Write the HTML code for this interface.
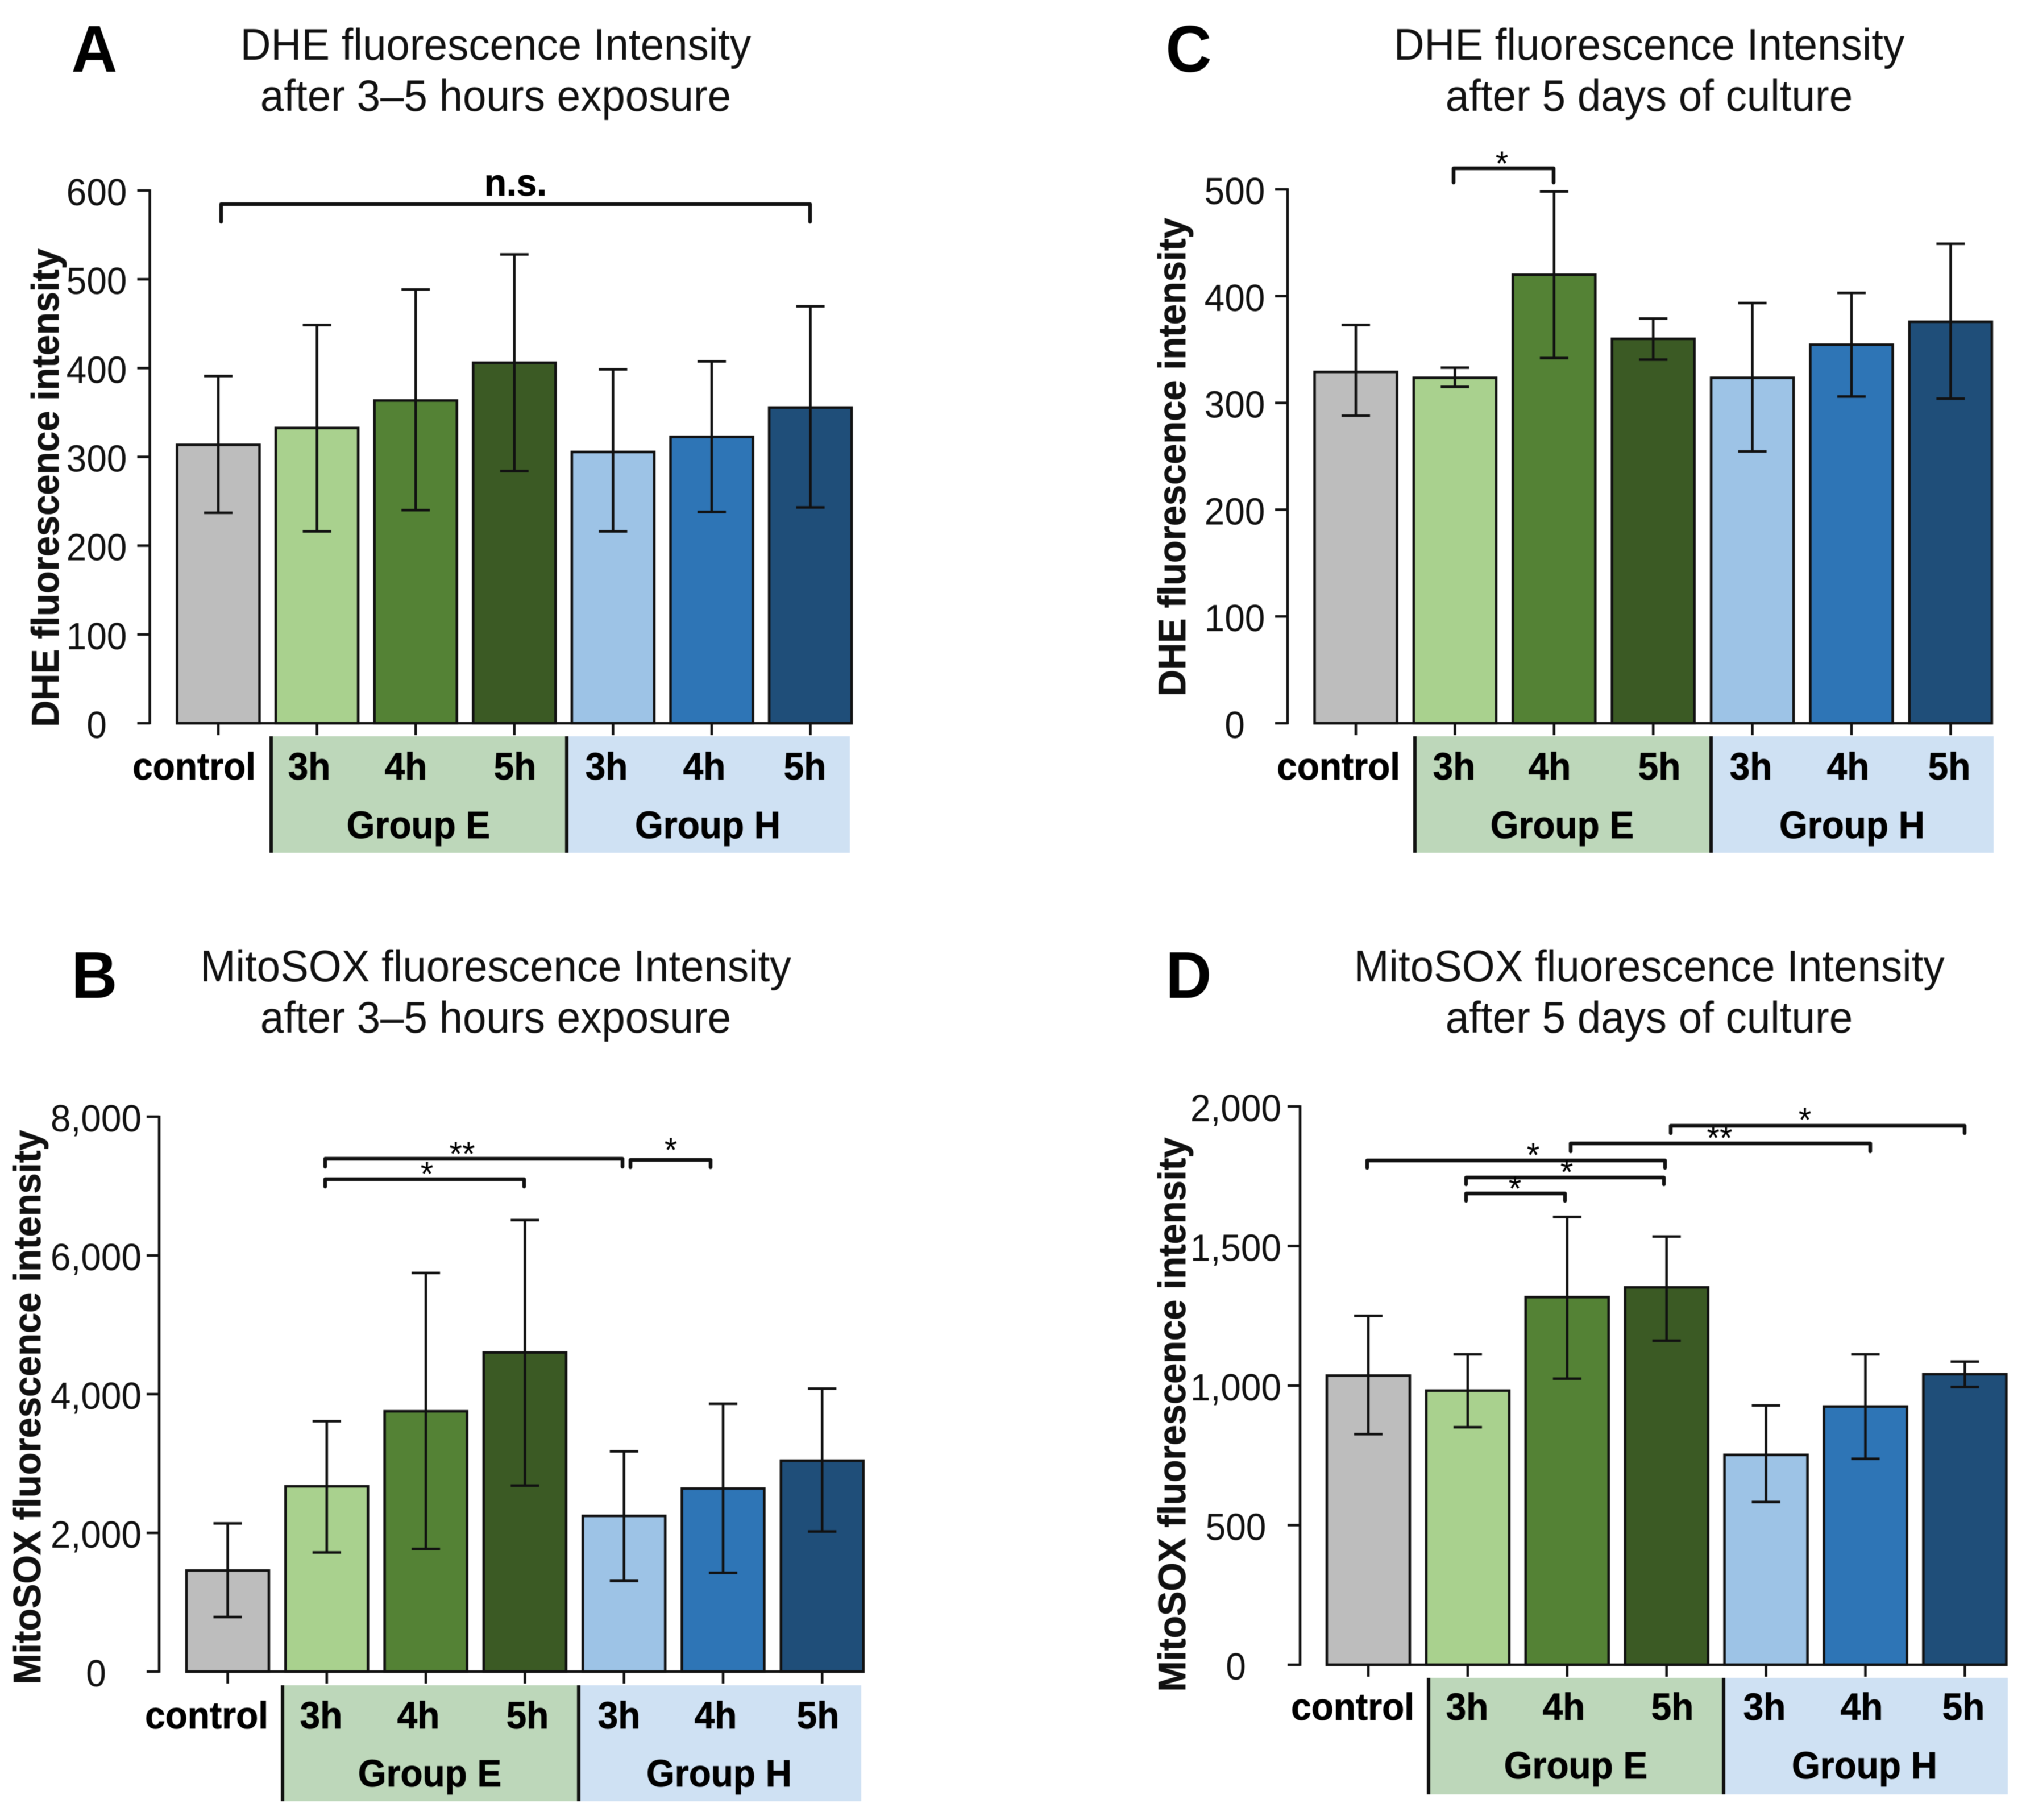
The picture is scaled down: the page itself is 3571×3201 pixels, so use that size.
<!DOCTYPE html>
<html lang="en">
<head>
<meta charset="utf-8">
<title>DHE and MitoSOX fluorescence intensity</title>
<style>
html,body{margin:0;padding:0;background:#fff;width:3571px;height:3201px;overflow:hidden}
svg{display:block;filter:blur(0.6px)}
text{font-family:"Liberation Sans",Arial,sans-serif;fill:#111}
.title{font-size:74.5px;text-anchor:middle}
.letter{font-size:112px;font-weight:700;text-anchor:middle;fill:#000}
.ytitle{font-size:65px;font-weight:700;text-anchor:middle;stroke:#111;stroke-width:.7}
.tick{font-size:64px;text-anchor:middle}
.cat{font-size:64px;font-weight:700;text-anchor:middle;fill:#000;stroke:#000;stroke-width:.7}
.catr{font-size:64px;font-weight:700;text-anchor:end;fill:#000;stroke:#000;stroke-width:.7}
.star{font-size:58px;text-anchor:middle;fill:#000}
.br{fill:none;stroke:#111;stroke-width:6.5;stroke-linecap:round;stroke-linejoin:round}
.sep{stroke:#111;stroke-width:6}
</style>
</head>
<body>
<svg id="figure" xmlns="http://www.w3.org/2000/svg" width="3571" height="3201" viewBox="0 0 3571 3201">
<rect width="3571" height="3201" fill="#fff"/>

<g id="panel-a">
  <text class="letter" x="166" y="126">A</text>
  <text class="title" x="872" y="105">DHE fluorescence Intensity</text>
  <text class="title" x="872" y="195">after 3–5 hours exposure</text>
  <text class="ytitle" transform="translate(103,858) rotate(-90)">DHE fluorescence intensity</text>
  <rect x="477" y="1295" width="520" height="205" fill="#bdd7ba"/>
  <rect x="997" y="1295" width="498" height="205" fill="#cfe1f3"/>
  <line class="sep" x1="477" y1="1295" x2="477" y2="1500"/>
  <line class="sep" x1="997" y1="1295" x2="997" y2="1500"/>
  <text class="catr" x="450" y="1371">control</text>
  <text class="cat" x="544" y="1371">3h</text>
  <text class="cat" x="714" y="1371">4h</text>
  <text class="cat" x="906" y="1371">5h</text>
  <text class="cat" x="1067" y="1371">3h</text>
  <text class="cat" x="1239" y="1371">4h</text>
  <text class="cat" x="1416" y="1371">5h</text>
  <text class="cat" x="736" y="1474">Group E</text>
  <text class="cat" x="1245" y="1474">Group H</text>
  <path class="br" d="M389 390V359H1425V390"/>
  <text class="cat" x="907" y="344">n.s.</text>
</g>

<g id="panel-c">
  <text class="letter" x="2091" y="126">C</text>
  <text class="title" x="2901" y="105">DHE fluorescence Intensity</text>
  <text class="title" x="2901" y="195">after 5 days of culture</text>
  <text class="ytitle" transform="translate(2085,804) rotate(-90)">DHE fluorescence intensity</text>
  <rect x="2489" y="1295" width="521" height="205" fill="#bdd7ba"/>
  <rect x="3010" y="1295" width="497" height="205" fill="#cfe1f3"/>
  <line class="sep" x1="2489" y1="1295" x2="2489" y2="1500"/>
  <line class="sep" x1="3010" y1="1295" x2="3010" y2="1500"/>
  <text class="catr" x="2463" y="1371">control</text>
  <text class="cat" x="2558" y="1371">3h</text>
  <text class="cat" x="2726" y="1371">4h</text>
  <text class="cat" x="2919" y="1371">5h</text>
  <text class="cat" x="3080" y="1371">3h</text>
  <text class="cat" x="3251" y="1371">4h</text>
  <text class="cat" x="3429" y="1371">5h</text>
  <text class="cat" x="2748" y="1474">Group E</text>
  <text class="cat" x="3258" y="1474">Group H</text>
  <path class="br" d="M2557 321V296H2733V321"/>
  <text class="star" x="2642" y="308">*</text>
</g>

<g id="panel-b">
  <text class="letter" x="166" y="1755">B</text>
  <text class="title" x="872" y="1726">MitoSOX fluorescence Intensity</text>
  <text class="title" x="872" y="1816">after 3–5 hours exposure</text>
  <text class="ytitle" transform="translate(71,2475) rotate(-90)">MitoSOX fluorescence intensity</text>
  <rect x="497" y="2964" width="521" height="204" fill="#bdd7ba"/>
  <rect x="1018" y="2964" width="497" height="204" fill="#cfe1f3"/>
  <line class="sep" x1="497" y1="2964" x2="497" y2="3168"/>
  <line class="sep" x1="1018" y1="2964" x2="1018" y2="3168"/>
  <text class="catr" x="472" y="3040">control</text>
  <text class="cat" x="565" y="3040">3h</text>
  <text class="cat" x="736" y="3040">4h</text>
  <text class="cat" x="928" y="3040">5h</text>
  <text class="cat" x="1089" y="3040">3h</text>
  <text class="cat" x="1259" y="3040">4h</text>
  <text class="cat" x="1439" y="3040">5h</text>
  <text class="cat" x="756" y="3142">Group E</text>
  <text class="cat" x="1265" y="3142">Group H</text>
  <path class="br" d="M572 2052V2038H1095V2052"/>
  <text class="star" x="813" y="2050">**</text>
  <path class="br" d="M572 2087V2074H922V2087"/>
  <text class="star" x="751" y="2085">*</text>
  <path class="br" d="M1109 2053V2040H1250V2053"/>
  <text class="star" x="1180" y="2043">*</text>
</g>

<g id="panel-d">
  <text class="letter" x="2091" y="1755">D</text>
  <text class="title" x="2901" y="1726">MitoSOX fluorescence Intensity</text>
  <text class="title" x="2901" y="1816">after 5 days of culture</text>
  <text class="ytitle" transform="translate(2085,2488) rotate(-90)">MitoSOX fluorescence intensity</text>
  <rect x="2513" y="2951" width="519" height="205" fill="#bdd7ba"/>
  <rect x="3032" y="2951" width="500" height="205" fill="#cfe1f3"/>
  <line class="sep" x1="2513" y1="2951" x2="2513" y2="3156"/>
  <line class="sep" x1="3032" y1="2951" x2="3032" y2="3156"/>
  <text class="catr" x="2488" y="3025">control</text>
  <text class="cat" x="2581" y="3025">3h</text>
  <text class="cat" x="2751" y="3025">4h</text>
  <text class="cat" x="2942" y="3025">5h</text>
  <text class="cat" x="3104" y="3025">3h</text>
  <text class="cat" x="3275" y="3025">4h</text>
  <text class="cat" x="3454" y="3025">5h</text>
  <text class="cat" x="2772" y="3128">Group E</text>
  <text class="cat" x="3280" y="3128">Group H</text>
  <path class="br" d="M2405 2054V2041H2929V2054"/>
  <text class="star" x="2697" y="2052">*</text>
  <path class="br" d="M2579 2083V2071H2927V2083"/>
  <text class="star" x="2756" y="2082">*</text>
  <path class="br" d="M2579 2112V2099H2753V2112"/>
  <text class="star" x="2665" y="2111">*</text>
  <path class="br" d="M2763 2025V2011H3290V2025"/>
  <text class="star" x="3025" y="2022">**</text>
  <path class="br" d="M2939 1993V1980H3456V1993"/>
  <text class="star" x="3175" y="1990">*</text>
</g>
</svg>

<script>
const categories = ['control', 'E-3h', 'E-4h', 'E-5h', 'H-3h', 'H-4h', 'H-5h'];

const meansA = [313.5, 332.5, 363.5, 406, 305.5, 322.5, 355.5];
const upperA = [391, 448.5, 488.5, 528, 398.5, 407.5, 469.5];
const lowerA = [237, 216, 240, 284, 216, 238, 243];
const ticksA = [0, 100, 200, 300, 400, 500, 600];
const tickLabelsA = ['0', '100', '200', '300', '400', '500', '600'];

const meansB = [1458, 2672, 3753, 4600, 2245, 2639, 3041];
const upperB = [2136, 3610, 5747, 6509, 3175, 3862, 4080];
const lowerB = [787, 1717, 1768, 2681, 1307, 1424, 2019];
const ticksB = [0, 2000, 4000, 6000, 8000];
const tickLabelsB = ['0', '2,000', '4,000', '6,000', '8,000'];

const meansC = [329, 323.5, 420, 360, 323.5, 354.5, 376];
const upperC = [373, 333, 498, 379, 393.5, 403, 449];
const lowerC = [288, 315, 342, 340.5, 254.5, 306, 304];
const ticksC = [0, 100, 200, 300, 400, 500];
const tickLabelsC = ['0', '100', '200', '300', '400', '500'];

const meansD = [1036, 982, 1317, 1352, 752, 925, 1041];
const upperD = [1250, 1112, 1604, 1534, 929, 1112, 1086];
const lowerD = [826, 851, 1025, 1161, 583, 738, 995];
const ticksD = [0, 500, 1000, 1500, 2000];
const tickLabelsD = ['0', '500', '1,000', '1,500', '2,000'];

const barColors = ['#bdbdbd', '#a9d18e', '#548235', '#3b5a24', '#9dc3e6', '#2e75b6', '#1f4e79'];
const NS = 'http://www.w3.org/2000/svg';

function shape(parent, tag, attrs) {
  const el = document.createElementNS(NS, tag);
  for (const k in attrs) el.setAttribute(k, attrs[k]);
  parent.appendChild(el);
  return el;
}

function drawPanel(id, frame, means, upper, lower, ticks, tickLabels) {
  const g = document.getElementById('panel-' + id);
  const yScale = v => frame.base - (v / frame.max) * (frame.base - frame.top);
  const xScale = i => frame.firstCenter + i * frame.pitch;
  const ink = '#111';

  categories.forEach((cat, i) => {
    const cx = xScale(i);
    const y = yScale(means[i]);
    const bar = shape(g, 'rect', {x: cx - frame.barWidth / 2, y: y, width: frame.barWidth, height: frame.base - y, fill: barColors[i], stroke: ink, 'stroke-width': 4.5});
    
    
  });

  categories.forEach((cat, i) => {
    const cx = xScale(i);
    const yUp = yScale(upper[i]);
    const yLo = yScale(lower[i]);
    const err = shape(g, 'path', {d: 'M' + (cx - 25) + ' ' + yUp + 'H' + (cx + 25) + 'M' + cx + ' ' + yUp + 'V' + yLo + 'M' + (cx - 25) + ' ' + yLo + 'H' + (cx + 25), fill: 'none', stroke: ink, 'stroke-width': 4.5});
    
    
    const tick = shape(g, 'line', {x1: cx, y1: frame.base, x2: cx, y2: frame.base + 21, stroke: ink, 'stroke-width': 4.5});
    
    
  });

  const xAxis = shape(g, 'line', {x1: xScale(0) - frame.barWidth / 2 - 2, y1: frame.base, x2: xScale(categories.length - 1) + frame.barWidth / 2 + 2, y2: frame.base, stroke: ink, 'stroke-width': 4.5});
  
  

  const yAxis = shape(g, 'line', {x1: frame.axisX, y1: frame.top - 2, x2: frame.axisX, y2: frame.base + 2, stroke: ink, 'stroke-width': 4.5});
  
  

  ticks.forEach((t, i) => {
    const y = yScale(t);
    const tick = shape(g, 'line', {x1: frame.axisX - 22, y1: y, x2: frame.axisX, y2: y, stroke: ink, 'stroke-width': 4.5});
    
    
    const label = shape(g, 'text', {class: 'tick', x: frame.labelCenter, y: y + 26});
    label.textContent = tickLabels[i];
    
    
  });
}

drawPanel('a', {axisX: 263.5, base: 1272, top: 335, max: 600, firstCenter: 384, pitch: 173.6, barWidth: 145, labelCenter: 170}, meansA, upperA, lowerA, ticksA, tickLabelsA);
drawPanel('b', {axisX: 280, base: 2940, top: 1964, max: 8000, firstCenter: 400.5, pitch: 174.3, barWidth: 145, labelCenter: 169}, meansB, upperB, lowerB, ticksB, tickLabelsB);
drawPanel('c', {axisX: 2265, base: 1272, top: 333, max: 500, firstCenter: 2385, pitch: 174.4, barWidth: 145, labelCenter: 2172}, meansC, upperC, lowerC, ticksC, tickLabelsC);
drawPanel('d', {axisX: 2287, base: 2928, top: 1946, max: 2000, firstCenter: 2407, pitch: 174.9, barWidth: 146, labelCenter: 2174}, meansD, upperD, lowerD, ticksD, tickLabelsD);

/* Reference glyphs have a taller cap height than Liberation: stretch text slightly about its baseline. */
document.querySelectorAll('#figure text').forEach(t => {
  const existing = t.getAttribute('transform');
  if (existing) {
    t.setAttribute('transform', existing + ' scale(1,1.04)');
  } else {
    const x = t.getAttribute('x');
    const y = t.getAttribute('y');
    t.setAttribute('transform', 'translate(' + x + ',' + y + ') scale(1,1.04) translate(' + (-x) + ',' + (-y) + ')');
  }
});
</script>
</body>
</html>
